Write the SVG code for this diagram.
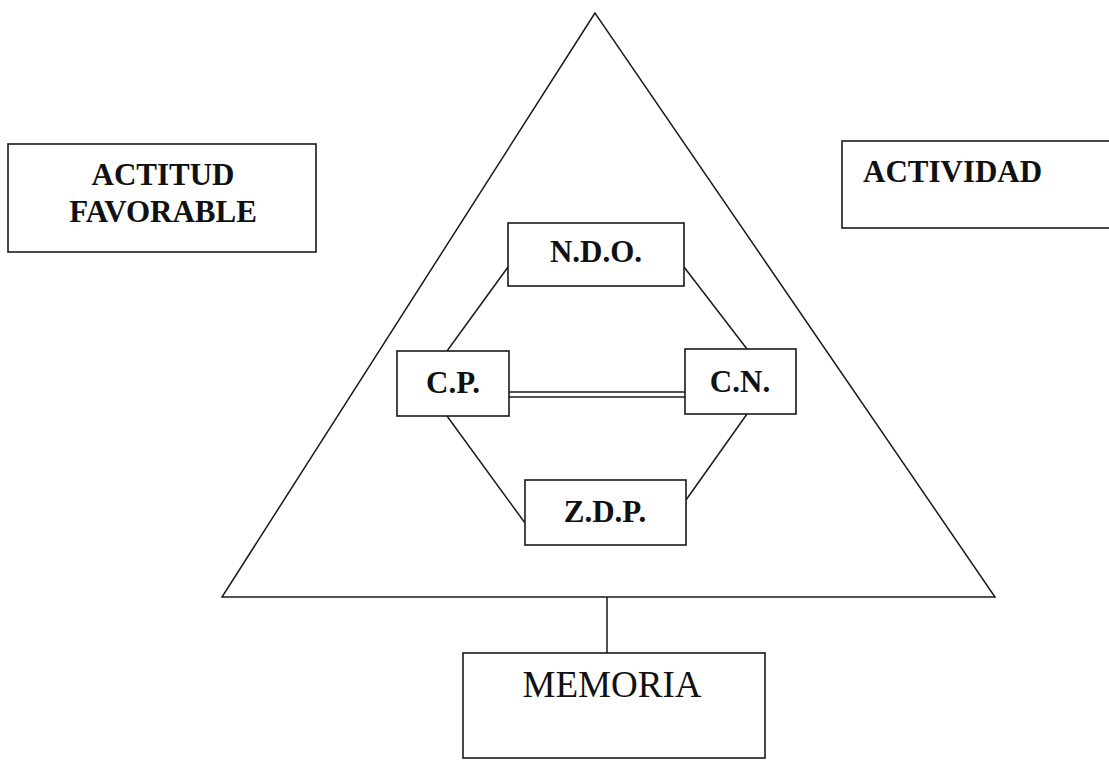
<svg xmlns="http://www.w3.org/2000/svg" width="1109" height="760" viewBox="0 0 1109 760">
  <style>
    .box { fill: #ffffff; stroke: #1a1a1a; stroke-width: 1.6; }
    .edge { fill: none; stroke: #1a1a1a; stroke-width: 1.5; }
    .lbl { font-family: "Liberation Serif", "Times New Roman", serif; font-size: 31px; font-weight: bold; fill: #111111; text-anchor: middle; }
    .lbl-plain { font-family: "Liberation Serif", "Times New Roman", serif; font-size: 37px; fill: #111111; text-anchor: middle; }
  </style>
  <rect width="1109" height="760" fill="#ffffff"/>

  <!-- outer triangle -->
  <g id="triangle">
    <polygon class="edge" points="595,13 222,597 995,597"/>
  </g>

  <!-- connectors -->
  <g id="connectors">
    <line class="edge" x1="508" y1="267" x2="447" y2="351"/>
    <line class="edge" x1="684" y1="267" x2="747" y2="349"/>
    <line class="edge" x1="447" y1="416" x2="525" y2="523"/>
    <line class="edge" x1="747" y1="414" x2="686" y2="500"/>
    <line class="edge" x1="509" y1="392" x2="685" y2="392"/>
    <line class="edge" x1="509" y1="397" x2="685" y2="397"/>
    <line class="edge" x1="607" y1="597" x2="607" y2="653"/>
  </g>

  <g id="actitud-favorable">
    <rect class="box" x="8" y="144" width="308" height="108"/>
    <text class="lbl" x="163" y="185">ACTITUD</text>
    <text class="lbl" x="163" y="222">FAVORABLE</text>
  </g>

  <g id="actividad">
    <rect class="box" x="842" y="141" width="280" height="87"/>
    <text class="lbl" x="863" y="182" style="text-anchor:start">ACTIVIDAD</text>
  </g>

  <g id="ndo">
    <rect class="box" x="508" y="223" width="176" height="63"/>
    <text class="lbl" x="596" y="262">N.D.O.</text>
  </g>

  <g id="cp">
    <rect class="box" x="397" y="351" width="112" height="65"/>
    <text class="lbl" x="453" y="393">C.P.</text>
  </g>

  <g id="cn">
    <rect class="box" x="685" y="349" width="111" height="65"/>
    <text class="lbl" x="740" y="392">C.N.</text>
  </g>

  <g id="zdp">
    <rect class="box" x="525" y="480" width="161" height="65"/>
    <text class="lbl" x="605" y="522">Z.D.P.</text>
  </g>

  <g id="memoria">
    <rect class="box" x="463" y="653" width="302" height="105"/>
    <text class="lbl-plain" x="612" y="697">MEMORIA</text>
  </g>
</svg>
